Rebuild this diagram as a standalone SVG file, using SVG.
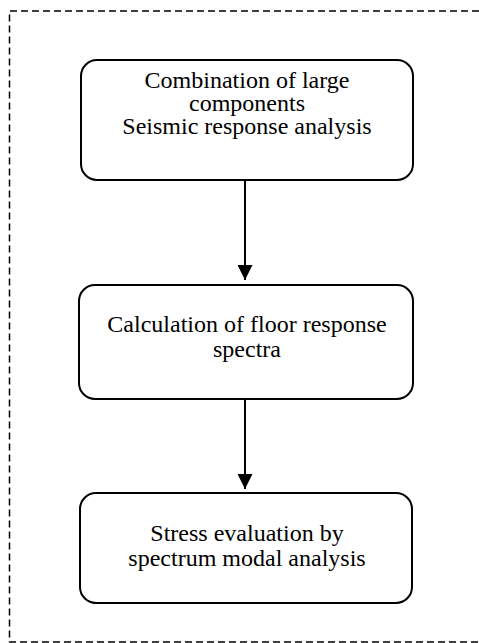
<svg xmlns="http://www.w3.org/2000/svg" width="479" height="643" viewBox="0 0 479 643">
<style>
.box{fill:#fff;stroke:#000;stroke-width:2}
.t{font-family:'Liberation Serif',serif;font-size:24px;fill:#000;text-anchor:middle}
.c{stroke:#000;stroke-width:2;fill:none}
</style>
<defs>
<marker id="ah" markerWidth="15" markerHeight="15" refX="15" refY="7.5" orient="auto" markerUnits="userSpaceOnUse">
<path d="M0,0 L15,7.5 L0,15 Z" fill="#000"/>
</marker>
</defs>
<path d="M479,11 H9.5 V642 H479" fill="none" stroke="#000" stroke-width="1.5" stroke-dasharray="7,4"/>
<g id="connectors">
<line class="c" x1="245" y1="180" x2="245" y2="280" marker-end="url(#ah)"/>
<line class="c" x1="245" y1="399" x2="245" y2="489" marker-end="url(#ah)"/>
</g>
<g id="n1">
<rect class="box" x="81" y="60" width="332" height="120" rx="16"/>
<text class="t" x="247" y="88">Combination of large</text>
<text class="t" x="247" y="111">components</text>
<text class="t" x="247" y="134">Seismic response analysis</text>
</g>
<g id="n2">
<rect class="box" x="79" y="285" width="334" height="114" rx="16"/>
<text class="t" x="247" y="332">Calculation of floor response</text>
<text class="t" x="247" y="357">spectra</text>
</g>
<g id="n3">
<rect class="box" x="80" y="493" width="332" height="110" rx="16"/>
<text class="t" x="247" y="541">Stress evaluation by</text>
<text class="t" x="247" y="566">spectrum modal analysis</text>
</g>
</svg>
